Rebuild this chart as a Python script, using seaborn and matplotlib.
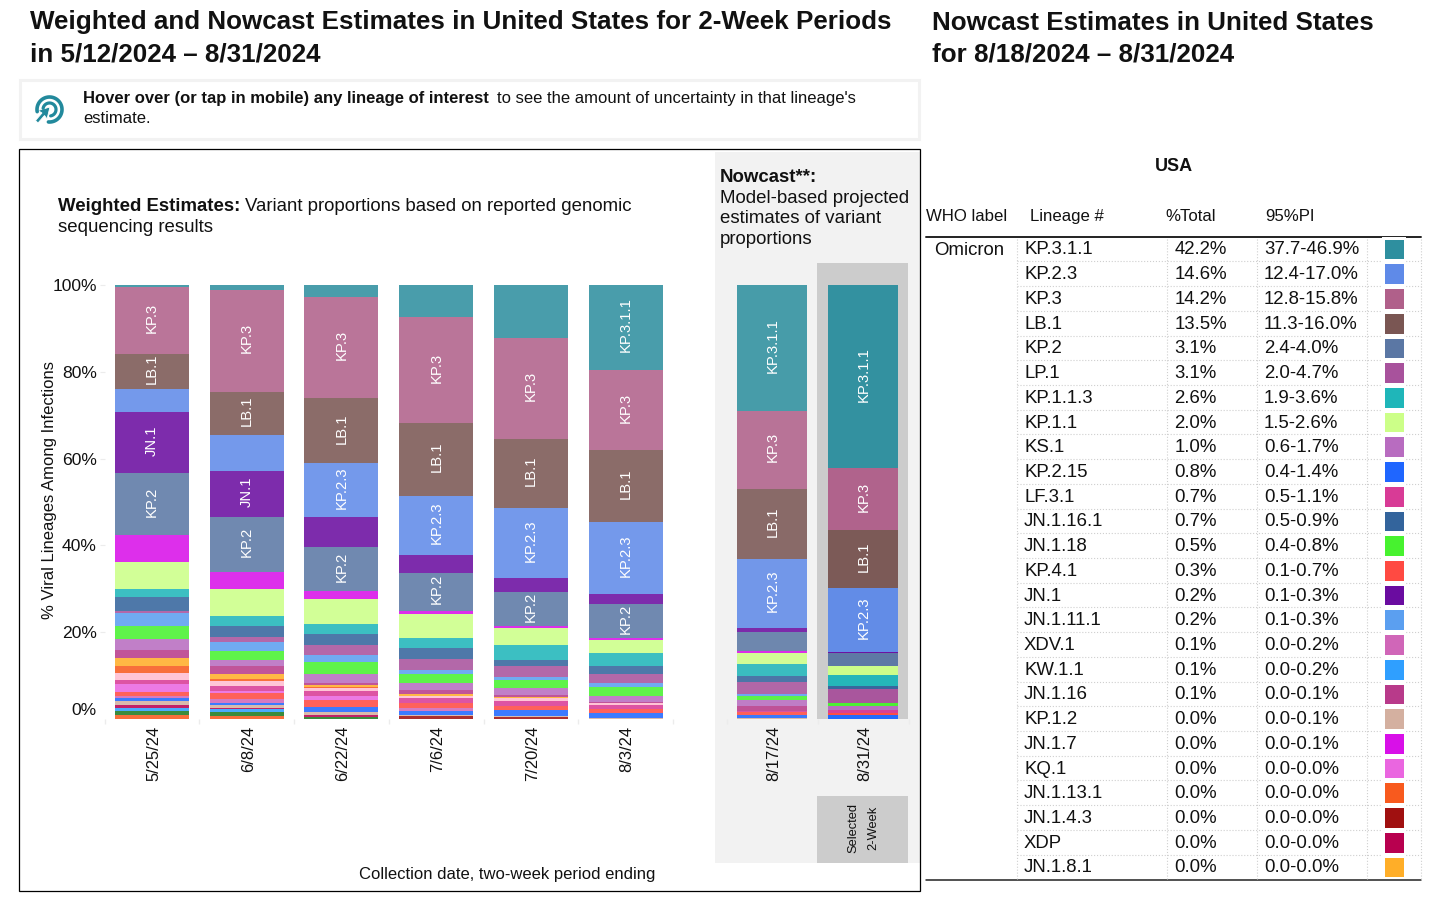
import numpy as np
import pandas as pd
import matplotlib
matplotlib.use("Agg")
import matplotlib.pyplot as plt
import seaborn as sns
from matplotlib.colors import ListedColormap
from matplotlib.patches import Rectangle, Polygon
from matplotlib.transforms import ScaledTranslation

# ---------- data ----------
stack_order = ["KP.3.1.1", "KP.3", "LB.1", "KP.2.3", "JN.1", "KP.2", "JN.1.7", "KP.1.1", "KP.1.1.3",
               "JN.1.16.1", "LP.1", "JN.1.11.1", "JN.1.18", "KS.1", "JN.1.16", "JN.1.8.1", "JN.1.13.1",
               "Pale", "LF.3.1", "KQ.1", "KP.4.1", "XDV.1", "KP.2.15", "KP.1.2", "XDP", "KW.1.1",
               "JN.1.4.3", "Green", "Base"]
wk_0525 = [.5, 15.4, 8.1, 5.3, 14.1, 14.1, 6.4, 6.2, 1.8, 3.2, .5, 3.0, 3.0, 2.5, 1.8, 1.8, 1.8, 1.6, .9, 1.8, .9, .5, .7, .9, .7, .7, 0, .9, .9]
wk_0608 = [1.1, 23.5, 9.9, 8.3, 10.6, 12.7, 3.9, 6.2, 2.3, 2.5, 1.2, 2.1, 2, 1.5, 1.9, 1, .5, 1.1, 1.2, .5, 1.5, .9, .4, .6, .2, .8, 0, .9, .7]
wk_0622 = [2.8, 23.3, 15, 12.4, 6.9, 10.1, 1.9, 5.8, 2.3, 2.5, 2.3, 1.5, 2.9, 1.9, .5, .5, .2, .8, 1.2, .8, 1.7, 0, 1.2, .6, .4, 0, 0, .5, 0]
wk_0706 = [7.4, 24.4, 16.8, 13.6, 4.1, 8.7, .9, 5.5, 2.3, 2.5, 2.5, .9, 2, 1.7, .9, .6, 0, .4, 1.1, 0, 1.2, .6, .9, .4, 0, 0, .6, 0, 0]
wk_0720 = [12.2, 23.3, 15.9, 16.1, 3.3, 7.8, .5, 3.9, 3.5, 1.2, 2.6, .6, 2, 1.5, .5, .2, 0, .7, 1.2, 0, .9, 0, 1.4, .15, 0, 0, .55, 0, 0]
wk_0803 = [19.6, 18.4, 16.6, 16.5, 2.5, 7.8, .3, 3.1, 2.9, 1.9, 2.2, .9, 2.1, 1.2, .4, 0, 0, .4, 1, 0, .8, 0, 1.1, .3, 0, 0, 0, 0, 0]
nc_0817 = [29.0, 18, 16.1, 16, .8, 4.5, .4, 2.5, 2.8, 1.4, 2.8, .4, 1, 1.2, 1.3, 0, 0, 0, .3, 0, .5, 0, .7, .3, 0, 0, 0, 0, 0]
nc_0831 = [42.2, 14.2, 13.5, 14.6, .2, 3.1, 0, 2.0, 2.6, .7, 3.1, .2, .5, 1.0, .1, 0, 0, 0, .7, 0, .3, .1, .8, 0, 0, .1, 0, 0, 0]
weighted = {"5/25/24": wk_0525, "6/8/24": wk_0608, "6/22/24": wk_0622,
            "7/6/24": wk_0706, "7/20/24": wk_0720, "8/3/24": wk_0803}
nowcast = {"8/17/24": nc_0817, "8/31/24": nc_0831}
seg_labels = {"5/25/24": ["KP.3", "LB.1", "JN.1", "KP.2"], "6/8/24": ["KP.3", "LB.1", "JN.1", "KP.2"],
              "6/22/24": ["KP.3", "LB.1", "KP.2.3", "KP.2"], "7/6/24": ["KP.3", "LB.1", "KP.2.3", "KP.2"],
              "7/20/24": ["KP.3", "LB.1", "KP.2.3", "KP.2"], "8/3/24": ["KP.3.1.1", "KP.3", "LB.1", "KP.2.3", "KP.2"],
              "8/17/24": ["KP.3.1.1", "KP.3", "LB.1", "KP.2.3"], "8/31/24": ["KP.3.1.1", "KP.3", "LB.1", "KP.2.3"]}

tbl_lineage = ["KP.3.1.1", "KP.2.3", "KP.3", "LB.1", "KP.2", "LP.1", "KP.1.1.3", "KP.1.1", "KS.1", "KP.2.15",
               "LF.3.1", "JN.1.16.1", "JN.1.18", "KP.4.1", "JN.1", "JN.1.11.1", "XDV.1", "KW.1.1", "JN.1.16",
               "KP.1.2", "JN.1.7", "KQ.1", "JN.1.13.1", "JN.1.4.3", "XDP", "JN.1.8.1"]
tbl_total = ["42.2%", "14.6%", "14.2%", "13.5%", "3.1%", "3.1%", "2.6%", "2.0%", "1.0%", "0.8%", "0.7%", "0.7%", "0.5%",
             "0.3%", "0.2%", "0.2%", "0.1%", "0.1%", "0.1%", "0.0%", "0.0%", "0.0%", "0.0%", "0.0%", "0.0%", "0.0%"]
tbl_pi = ["37.7-46.9%", "12.4-17.0%", "12.8-15.8%", "11.3-16.0%", "2.4-4.0%", "2.0-4.7%", "1.9-3.6%", "1.5-2.6%",
          "0.6-1.7%", "0.4-1.4%", "0.5-1.1%", "0.5-0.9%", "0.4-0.8%", "0.1-0.7%", "0.1-0.3%", "0.1-0.3%", "0.0-0.2%",
          "0.0-0.2%", "0.0-0.1%", "0.0-0.1%", "0.0-0.1%", "0.0-0.0%", "0.0-0.0%", "0.0-0.0%", "0.0-0.0%", "0.0-0.0%"]
tbl_color = ["#2e8f9f", "#5f8ae8", "#b0608a", "#7a5653", "#5b77a4", "#a8529c", "#1fb6b9", "#ccff88", "#b86cc0",
             "#1f66ff", "#d83b96", "#33649c", "#47f22f", "#ff4a42", "#6a0ca0", "#5b9ff0", "#d066b8", "#2f9fff",
             "#b83a8a", "#d4b0a0", "#d810e8", "#ea66e0", "#f85a1e", "#a01010", "#b8004f", "#ffae28"]

palette = dict(zip(tbl_lineage, tbl_color))
palette.update({"Pale": "#ffbdd0", "Green": "#1c7a20", "Base": "#f85a1e"})

# ---------- figure ----------
sns.set_style("white")
plt.rcParams["font.family"] = ["Liberation Sans", "DejaVu Sans"]
W, H = 1456, 901
fig = plt.figure(figsize=(W / 100, H / 100), dpi=100, facecolor="white")


def pxaxes(x0, x1, y0, y1, z):
    a = fig.add_axes([x0 / W, 1 - y1 / H, (x1 - x0) / W, (y1 - y0) / H], zorder=z)
    a.patch.set_alpha(0)
    return a


bg = pxaxes(0, W, 0, H, 0)
bg.set_xlim(0, W)
bg.set_ylim(H, 0)
bg.axis("off")


def T(x, y, s, size, **kw):
    kw.setdefault("va", "center")
    kw.setdefault("ha", "left")
    kw.setdefault("color", "#111111")
    if "rotation" not in kw:
        y = y + 1.5
    return bg.text(x, y, s, fontsize=size, **kw)


# headings
T(30, 21, "Weighted and Nowcast Estimates in United States for 2-Week Periods", 18.76, fontweight="bold")
T(30, 53, "in 5/12/2024 – 8/31/2024", 18.76, fontweight="bold")
T(932, 21, "Nowcast Estimates in United States", 18.76, fontweight="bold")
T(932, 53, "for 8/18/2024 – 8/31/2024", 18.76, fontweight="bold")

# hover box
bg.add_patch(Rectangle((20, 80), 899, 59, fc="white", ec="#f2f2f2", lw=2.2))
T(83, 97, "Hover over (or tap in mobile) any lineage of interest", 12, fontweight="bold")
T(497, 97, "to see the amount of uncertainty in that lineage's", 12)
T(83, 117, "estimate.", 12)
icon = "#22899c"
th = np.radians(np.linspace(-95, 190, 60))
bg.plot(49.5 + 12.5 * np.cos(th), 109.5 - 12.5 * np.sin(th), color=icon, lw=2.6)
th2 = np.radians(np.linspace(-80, 170, 60))
bg.plot(49.5 + 6.5 * np.cos(th2), 109.5 - 6.5 * np.sin(th2), color=icon, lw=2.3)
bg.add_patch(Polygon([[50, 107], [47, 119], [44.5, 115.5], [38, 123], [35.5, 120.5], [42, 113], [38, 110.5]],
                     fc=icon, ec="white", lw=0.6))

# chart frame and panels
bg.add_patch(Rectangle((19, 149), 901, 742, fc="none", ec="black", lw=0.9, zorder=5))
bg.add_patch(Rectangle((715, 152), 205, 711, fc="#f2f2f2", ec="none"))
bg.add_patch(Rectangle((817, 263), 91, 456, fc="#cccccc", ec="none"))
bg.add_patch(Rectangle((817, 796), 91, 67, fc="#cccccc", ec="none"))
T(853, 828, "Selected", 9.3, rotation=90, ha="center")
T(873, 828, "2-Week", 9.3, rotation=90, ha="center")

T(58, 205, "Weighted Estimates:", 13.45, fontweight="bold")
T(245, 205, "Variant proportions based on reported genomic", 13.45)
T(58, 226, "sequencing results", 13.45)
T(720, 176, "Nowcast**:", 13.45, fontweight="bold")
T(720, 197, "Model-based projected", 13.45)
T(720, 217, "estimates of variant", 13.45)
T(720, 238, "proportions", 13.45)
T(507, 873, "Collection date, two-week period ending", 12, ha="center")


def tidy(d):
    return pd.DataFrame([(k, lin, v) for k, vals in d.items() for lin, v in zip(stack_order, vals)],
                        columns=["date", "lineage", "pct"])


def stacked(ax, d, alpha):
    sns.histplot(data=tidy(d), x="date", hue="lineage", weights="pct", multiple="stack", hue_order=stack_order,
                 palette=palette, shrink=0.78, linewidth=0, alpha=alpha, legend=False, ax=ax)
    ax.set_ylim(0, 100)
    ax.set_xlim(-0.5, len(d) - 0.5)
    ax.set_xlabel("")
    ax.set_ylabel("")
    ax.set_xticks(range(len(d)))
    ax.set_xticklabels(list(d), rotation=90, fontsize=11.9, color="#111111")
    ax.set_xticks(np.arange(len(d) + 1) - 0.5, minor=True)
    ax.tick_params(axis="x", which="major", length=0, pad=5, bottom=False)
    ax.tick_params(axis="x", which="minor", length=3.6, color="#ececec", width=1, bottom=True)
    shift = ScaledTranslation(1.5 / 100, 0, fig.dpi_scale_trans)
    for lab in ax.get_xticklabels():
        lab.set_transform(lab.get_transform() + shift)
    sns.despine(ax=ax, left=True, bottom=True)
    for i, (k, vals) in enumerate(d.items()):
        tops = 100 - np.cumsum(vals) + np.array(vals) / 2
        for lab in seg_labels[k]:
            ax.annotate(lab, (i, tops[stack_order.index(lab)]), xytext=(0.2, 1.8), textcoords="offset points",
                        rotation=90, ha="center", va="center", color="white", fontsize=10.6)


ax1 = pxaxes(104.6, 673, 285, 719, 2)
stacked(ax1, weighted, 0.87)
ax1.set_yticks(np.arange(0, 101, 20))
ax1.set_yticklabels([f"{v}%" for v in range(0, 101, 20)], fontsize=12.6, color="#111111")
ax1.tick_params(axis="y", length=3.6, color="#ececec", left=True, pad=2)
ylab0 = ax1.get_yticklabels()[0]
ylab0.set_transform(ylab0.get_transform() + ScaledTranslation(0, 10 / 100, fig.dpi_scale_trans))
ax1.yaxis.get_major_ticks()[0].tick1line.set_visible(False)
T(50, 490, "% Viral Lineages Among Infections", 12, rotation=90, ha="center")

ax2 = pxaxes(726.5, 908.5, 285, 719, 2)
stacked(ax2, nowcast, 0.87)
ax2.set_yticks([])
for p in ax2.patches:
    if p.get_x() > 0.5:
        p.set_alpha(0.97)

# ---------- table ----------
row0, drow = 249, 24.72
T(1174, 165, "USA", 13, fontweight="bold", ha="center")
T(926, 215, "WHO label", 12.1)
T(1030, 215, "Lineage #", 12.1)
T(1165, 215, "%Total", 12.1)
T(1265, 215, "95%PI", 12.1)
T(934, 249, "Omicron", 13.4)
bg.plot([926, 1421], [237, 237], color="#222222", lw=1.4)
bg.plot([926, 1421], [880, 880], color="#222222", lw=1.1)
for x in [1017, 1167, 1257, 1367, 1421]:
    bg.plot([x, x], [239, 879], color="#cfcfcf", lw=0.8, ls=":")
for i, (lin, tot, pi) in enumerate(zip(tbl_lineage, tbl_total, tbl_pi)):
    y = row0 + drow * i
    T(1024, y - 0.5, lin, 13.4)
    T(1174.5, y - 0.5, tot, 13.4)
    T(1264, y - 0.5, pi, 13.4)
    if i < len(tbl_lineage) - 1:
        bg.plot([1017, 1421], [y + drow / 2, y + drow / 2], color="#cfcfcf", lw=0.8, ls=":")

ax3 = pxaxes(1382, 1406, row0 - drow / 2, row0 + drow * 25.5, 2)
sns.heatmap(np.arange(len(tbl_color))[:, None], cmap=ListedColormap(tbl_color), cbar=False, linewidths=3.3,
            linecolor="white", xticklabels=False, yticklabels=False, ax=ax3)

fig.savefig("out.png", dpi=100)
